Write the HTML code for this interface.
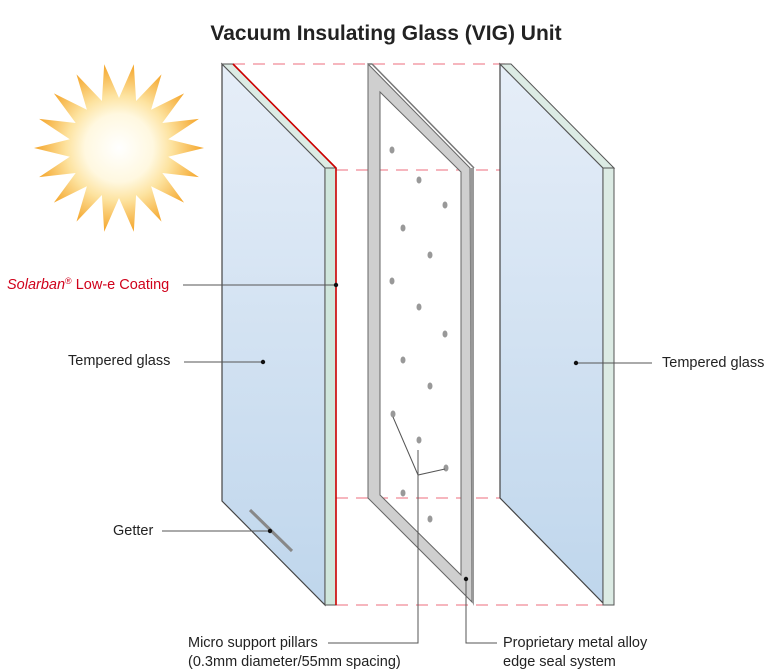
<!DOCTYPE html>
<html><head><meta charset="utf-8"><style>
html,body{margin:0;padding:0;background:#fff;width:773px;height:671px;overflow:hidden}
svg{display:block;font-family:"Liberation Sans",sans-serif}
</style></head><body>
<svg width="773" height="671" viewBox="0 0 773 671">
<defs>
<linearGradient id="g" x1="0" y1="0" x2="0" y2="1"><stop offset="0" stop-color="#e6eef8"/><stop offset="1" stop-color="#bfd6ec"/></linearGradient>
<radialGradient id="s" cx="119" cy="148" r="85" gradientUnits="userSpaceOnUse"><stop offset="0" stop-color="#ffffff"/><stop offset="0.4" stop-color="#fff8e0"/><stop offset="0.62" stop-color="#fde3a0"/><stop offset="1" stop-color="#f4a428"/></radialGradient>
</defs>
<text x="386" y="40" text-anchor="middle" font-size="21" font-weight="bold" fill="#222">Vacuum Insulating Glass (VIG) Unit</text>
<!-- sun -->
<polygon fill="url(#s)" points="
119.0,148.0" id="sun"/>
<script>
(function(){var p=[],cx=119,cy=148;for(var i=0;i<36;i++){var a=(i*10+10-90)*Math.PI/180*1;var r=(i%2==0)?85:50;p.push((cx+r*Math.cos(a)).toFixed(1)+","+(cy+r*Math.sin(a)).toFixed(1));}document.getElementById("sun").setAttribute("points",p.join(" "));})();
</script>
<!-- dashed lines -->
<g stroke="#f08a96" stroke-width="1.3" stroke-dasharray="12,8" fill="none">
<line x1="233" y1="64" x2="511" y2="64"/><line x1="336" y1="170" x2="614" y2="170"/>
<line x1="336" y1="498" x2="500" y2="498"/><line x1="336" y1="605" x2="603" y2="605"/>
</g>
<!-- left pane -->
<polygon points="222,64 325,168 325,605 222,501" fill="url(#g)" stroke="#444" stroke-width="1.2"/>
<polygon points="222,64 233,64 336,168 325,168" fill="#dcebe4" stroke="#555" stroke-width="1"/>
<rect x="325" y="168" width="11" height="437" fill="#cfe6dc" stroke="#555" stroke-width="1"/>
<polyline points="233,64 336,168 336,605" fill="none" stroke="#c00" stroke-width="1.6"/>
<line x1="250" y1="510" x2="292" y2="551" stroke="#888" stroke-width="3"/>
<!-- middle frame -->
<path d="M368,64 L470,168 L472,602 L368,498 Z M380,92 L380,495 L461,575 L461,172 Z" fill="#cfcfcf" fill-rule="evenodd" stroke="#666" stroke-width="1"/>
<polygon points="470,168 474,168 474,606 472,602" fill="#999"/>
<polyline points="368,64 372,64 474,168" fill="none" stroke="#777" stroke-width="1.5"/>
<g fill="#999">
<ellipse cx="392" cy="150" rx="2.5" ry="3.5"/><ellipse cx="419" cy="180" rx="2.5" ry="3.5"/><ellipse cx="445" cy="205" rx="2.5" ry="3.5"/><ellipse cx="403" cy="228" rx="2.5" ry="3.5"/><ellipse cx="430" cy="255" rx="2.5" ry="3.5"/><ellipse cx="392" cy="281" rx="2.5" ry="3.5"/><ellipse cx="419" cy="307" rx="2.5" ry="3.5"/><ellipse cx="445" cy="334" rx="2.5" ry="3.5"/><ellipse cx="403" cy="360" rx="2.5" ry="3.5"/><ellipse cx="430" cy="386" rx="2.5" ry="3.5"/><ellipse cx="393" cy="414" rx="2.5" ry="3.5"/><ellipse cx="419" cy="440" rx="2.5" ry="3.5"/><ellipse cx="446" cy="468" rx="2.5" ry="3.5"/><ellipse cx="403" cy="493" rx="2.5" ry="3.5"/><ellipse cx="430" cy="519" rx="2.5" ry="3.5"/>
</g>
<!-- right pane -->
<polygon points="500,64 603,168 603,603 500,498" fill="url(#g)" stroke="#444" stroke-width="1.2"/>
<polygon points="500,64 511,64 614,168 603,168" fill="#dcebe4" stroke="#555" stroke-width="1"/>
<rect x="603" y="168" width="11" height="437" fill="#dcebe4" stroke="#555" stroke-width="1"/>
<!-- leaders -->
<g stroke="#555" stroke-width="1" fill="none">
<line x1="183" y1="285" x2="336" y2="285"/>
<line x1="184" y1="362" x2="263" y2="362"/>
<line x1="576" y1="363" x2="652" y2="363"/>
<line x1="162" y1="531" x2="270" y2="531"/>
<polyline points="393,417 418,475 445,469"/>
<polyline points="418,450 418,643 328,643"/>
<polyline points="466,579 466,643 497,643"/>
</g>
<g fill="#111"><circle cx="336" cy="285" r="2.2"/><circle cx="263" cy="362" r="2.2"/><circle cx="576" cy="363" r="2.2"/><circle cx="270" cy="531" r="2.2"/><circle cx="466" cy="579" r="2.2"/></g>
<g font-size="14.5" fill="#222">
<text x="7" y="289"><tspan fill="#d0021b" font-style="italic">Solarban</tspan><tspan fill="#d0021b" font-size="9" dy="-5">®</tspan><tspan dy="5" fill="#d0021b"> Low-e Coating</tspan></text>
<text x="68" y="365">Tempered glass</text>
<text x="662" y="367">Tempered glass</text>
<text x="113" y="535">Getter</text>
<text x="188" y="647">Micro support pillars</text>
<text x="188" y="666">(0.3mm diameter/55mm spacing)</text>
<text x="503" y="647">Proprietary metal alloy</text>
<text x="503" y="666">edge seal system</text>
</g>
</svg>
</body></html>
